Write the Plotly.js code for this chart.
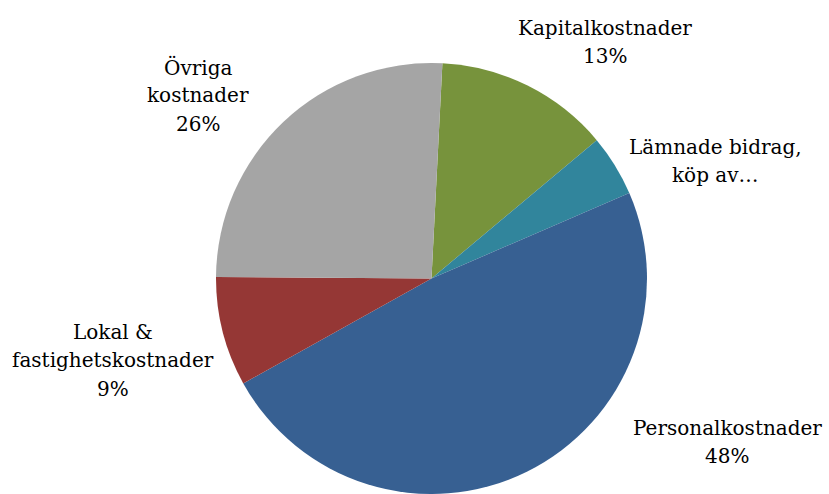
<!DOCTYPE html>
<html>
<head>
<meta charset="utf-8">
<script src="https://cdn.plot.ly/plotly-3.0.1.min.js"></script>
<style>html,body{margin:0;padding:0;background:#fff;}#chart{width:829px;height:494px;}</style>
</head>
<body>
<div id="chart"></div>
<script>
// Data
const categories = ["Kapitalkostnader", "Lämnade bidrag, köp av tjänster", "Personalkostnader", "Lokal & fastighetskostnader", "Övriga kostnader"];
const values = [13.1, 4.6, 48.4, 8.2, 25.7];
const labelLines = [
  ["Kapitalkostnader", "13%"],
  ["Lämnade bidrag,", "köp av…"],
  ["Personalkostnader", "48%"],
  ["Lokal &", "fastighetskostnader", "9%"],
  ["Övriga", "kostnader", "26%"]
];
const colors = ["#77933C", "#31859C", "#376092", "#953735", "#A5A5A5"];

// Layout (label placement: centre x and first baseline y, in px)
const W = 829, H = 494;
const labelPos = [[605, 35], [715, 154], [727, 435], [113, 339], [198, 74]];
const lineGap = 28.3;
const fontSize = 20;

const annotations = [];
labelLines.forEach((lines, i) => {
  lines.forEach((t, j) => {
    const px = labelPos[i][0];
    const py = labelPos[i][1] + j * lineGap - 0.346 * fontSize;
    annotations.push({
      text: t, xref: "paper", yref: "paper",
      x: px / W, y: 1 - py / H, xanchor: "center", yanchor: "middle",
      showarrow: false,
      font: {family: "DejaVu Serif", size: fontSize, color: "#000"}
    });
  });
});

const trace = {
  type: "pie",
  labels: categories,
  values: values,
  sort: false,
  direction: "clockwise",
  rotation: 2.9,
  marker: {colors: colors, line: {width: 0}},
  textinfo: "none",
  hoverinfo: "label+percent",
  domain: {x: [215 / W, 648 / W], y: [0, 1 - 63 / H]}
};

Plotly.newPlot("chart", [trace], {
  width: W, height: H,
  margin: {l: 0, r: 0, t: 0, b: 0},
  showlegend: false,
  paper_bgcolor: "#fff",
  annotations: annotations
}, {displayModeBar: false, staticPlot: true});
</script>
</body>
</html>
